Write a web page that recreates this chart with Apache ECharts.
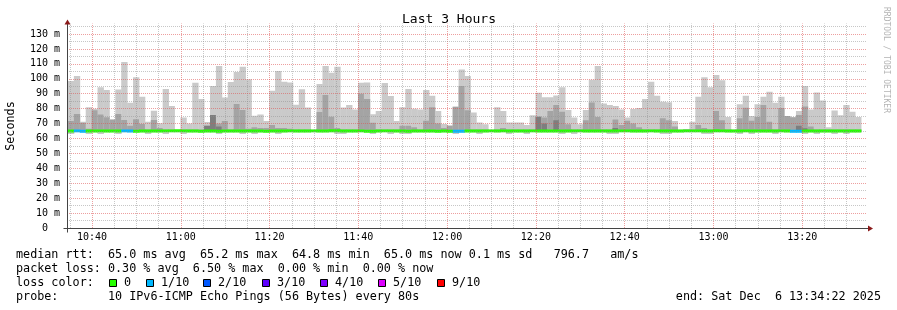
<!DOCTYPE html>
<html><head><meta charset="utf-8">
<script src="https://cdn.jsdelivr.net/npm/echarts@6/dist/echarts.min.js"></script>
<style>html,body{margin:0;padding:0;background:#fff}#c{width:897px;height:310px}</style>
</head><body><div id="c"></div><script>
// ---------------- data ----------------
const timeLabels = ['10:40','11:00','11:20','11:40','12:00','12:20','12:40','13:00','13:20'];
const windowStart = '10:34:22';          // 3 hour window
const windowHours = 3;
const firstStep = '10:34:35';            // start of first 80 s probe step
const stepSeconds = 80;

// light smoke: min .. max rtt (ms)
const maxRtt = [98.5,101.8,71.2,81.0,80.0,94.3,92.5,72.9,92.9,111.2,
84.0,101.1,88.0,71.2,78.6,70.2,93.1,81.8,65.8,74.1,
70.0,97.4,86.5,71.0,95.1,108.6,87.4,97.8,104.5,108.0,
99.7,75.2,76.0,71.8,92.0,105.2,98.1,97.5,82.6,93.0,
80.8,66.0,96.5,108.6,104.1,108.0,80.8,82.4,79.5,97.4,
97.6,76.2,78.4,97.2,88.4,71.7,81.0,93.1,79.9,79.5,
92.5,88.7,78.4,69.7,68.7,81.3,106.3,101.8,77.4,70.7,
69.6,66.0,81.0,78.4,70.7,70.7,70.7,69.1,75.6,90.6,
87.7,87.7,88.8,94.4,79.1,74.0,69.5,79.1,99.4,108.6,
83.5,82.4,81.7,79.5,74.0,79.7,80.4,86.5,98.1,88.7,
84.6,84.3,71.7,66.0,66.3,71.2,88.0,101.1,94.4,102.5,
99.1,74.4,66.0,82.9,88.7,75.0,82.9,88.0,91.3,83.9,
88.0,75.0,74.2,78.4,95.1,79.5,90.8,85.4,67.5,78.8,
75.5,82.4,77.9,74.4,null];
const minRtt = [63.0,64.2,64.2,63.0,64.2,63.0,64.2,64.2,63.0,64.2,
64.2,64.2,64.2,63.0,64.2,64.2,63.0,64.2,64.2,63.0,
64.2,64.2,64.2,64.2,64.2,63.0,64.2,64.2,64.2,63.0,
64.2,63.0,64.2,64.2,64.2,63.0,64.2,64.2,64.2,64.2,
64.2,64.2,64.2,64.2,64.2,63.0,63.0,64.2,64.2,64.2,
64.2,63.0,64.2,64.2,63.0,64.2,63.0,63.0,64.2,64.2,
64.2,64.2,64.2,64.2,64.2,63.0,64.2,64.2,64.2,63.0,
64.2,64.2,64.2,64.2,63.0,64.2,64.2,63.0,64.2,64.2,
64.2,64.2,64.2,63.0,64.2,63.0,64.2,64.2,64.2,64.2,
64.2,63.0,63.0,64.2,64.2,64.2,64.2,64.2,64.2,64.2,
63.0,63.0,64.2,64.2,64.2,64.2,64.2,63.0,63.0,64.2,
64.2,64.2,64.2,63.0,64.2,63.0,64.2,64.2,64.2,63.0,
64.2,64.2,64.2,64.2,63.0,64.2,63.0,64.2,64.2,63.0,
64.2,63.0,64.2,64.2,null];
// medium smoke: upper inner percentile (ms)
const p9Rtt = [71.7,76.4,70.5,66.5,79.0,76.0,74.2,72.5,76.4,72.4,
68.6,72.9,69.7,66.0,72.4,67.0,66.0,66.0,65.5,66.0,
66.0,66.0,66.0,68.5,75.7,70.0,71.7,66.0,83.1,79.1,
66.5,67.5,67.0,67.0,69.0,67.0,67.0,66.5,66.0,66.0,
66.0,65.5,77.8,89.1,74.5,67.0,66.0,66.0,66.0,90.0,
86.5,70.5,66.0,66.0,66.0,66.0,68.5,68.5,67.5,66.0,
71.9,81.0,70.0,67.0,68.5,81.3,95.2,79.0,66.0,66.0,
66.0,65.5,66.0,67.0,66.0,66.0,66.0,66.0,66.0,74.6,
74.0,78.4,82.4,77.9,69.6,66.0,66.0,72.3,84.1,74.4,
66.0,66.0,72.7,69.0,71.9,70.0,67.5,66.0,66.0,66.0,
73.5,72.3,68.0,65.5,66.0,66.0,69.1,67.0,66.0,78.4,
72.3,66.0,65.5,73.5,80.6,71.9,74.4,82.4,71.2,66.0,
80.5,75.0,74.2,75.7,81.5,68.0,66.0,66.0,66.0,66.0,
66.0,66.0,66.0,66.0,null];
// dark smoke: next inner percentile (ms), only where it shows
const p8Rtt = [null,null,null,null,null,null,null,null,null,null,
null,null,null,null,null,null,null,null,null,null,
null,null,null,68.5,75.7,68.0,null,null,null,null,
null,null,null,null,null,null,null,null,null,null,
null,null,null,null,null,null,null,null,null,null,
null,null,null,null,null,null,null,null,null,null,
null,null,null,null,null,null,null,null,null,null,
null,null,null,null,null,null,null,null,null,74.6,
70.0,null,72.3,null,null,null,null,null,null,null,
null,null,67.0,null,null,null,null,null,null,null,
null,null,null,null,null,null,null,null,null,null,
null,null,null,null,null,null,null,null,null,null,
null,null,null,68.5,66.8,null,null,null,null,null,
null,null,null,null,null];
// median rtt (ms) and lost pings out of 10
const medianRtt = [65.0,65.1,64.9,65.0,65.0,65.1,65.0,65.0,65.0,65.1,
65.0,64.9,65.0,65.0,65.0,65.0,65.1,65.1,65.2,65.1,
65.0,65.0,64.9,65.0,65.0,64.9,65.0,65.0,65.0,65.0,
65.0,65.0,65.0,64.9,65.0,65.0,65.0,65.1,65.0,65.0,
65.0,65.1,65.0,65.0,65.2,65.2,65.0,65.0,65.0,65.1,
64.9,64.9,65.0,65.1,65.1,65.0,65.0,64.9,65.0,65.0,
65.0,65.0,64.9,65.0,64.9,64.8,64.9,65.0,65.0,65.0,
65.0,65.1,65.0,65.1,65.0,65.0,65.0,65.0,65.1,65.0,
65.0,65.0,65.0,65.0,65.0,65.1,65.1,65.0,65.0,65.0,
65.0,65.0,65.0,65.1,65.1,65.0,65.0,65.0,65.1,65.0,
65.0,65.0,65.0,65.0,65.1,65.1,65.1,65.0,65.0,65.2,
65.1,65.0,65.0,65.0,65.1,65.0,65.0,65.0,65.0,65.0,
65.1,65.0,64.9,64.9,65.0,65.0,65.0,65.0,65.0,65.0,
65.0,65.0,65.0,65.0,null];
const lossCount = [0,1,1,0,0,0,0,0,0,1,
1,0,0,0,0,0,0,0,0,0,
0,0,0,0,0,0,0,0,0,0,
0,0,0,0,0,0,0,0,0,0,
0,0,0,0,0,0,0,0,0,0,
0,0,0,0,0,0,0,0,0,0,
0,0,0,0,0,1,1,0,0,0,
0,0,0,0,0,0,0,0,0,0,
0,0,0,0,0,0,0,0,0,0,
0,0,0,0,0,0,0,0,0,0,
0,0,0,0,0,0,0,0,0,0,
0,0,0,0,0,0,0,0,0,0,
0,0,1,1,0,0,0,0,0,0,
0,0,0,0,null];

const lossLegendLabels = ['0','1/10','2/10','3/10','4/10','5/10','9/10'];
const lossLegendColors = ['#26ff00','#00b8ff','#0059ff','#5e00ff','#7e00ff','#dd00ff','#ff0000'];
const yMaxMs = 137;
const yLabelStep = 10;
const titleText = 'Last 3 Hours';
const statLines = [
  'median rtt:  65.0 ms avg  65.2 ms max  64.8 ms min  65.0 ms now 0.1 ms sd   796.7   am/s',
  'packet loss: 0.30 % avg  6.50 % max  0.00 % min  0.00 % now',
  'loss color:',
  'probe:       10 IPv6-ICMP Echo Pings (56 Bytes) every 80s'
];
const endText = 'end: Sat Dec  6 13:34:22 2025';

// ---------------- helpers ----------------
const MONO = '"DejaVu Sans Mono", monospace';
const toMin = s => { const p = s.split(':').map(Number); return p[0]*60 + p[1] + (p[2]||0)/60; };
const X_MIN = toMin(windowStart), X_MAX = X_MIN + windowHours*60;
const STEP = stepSeconds/60;
const T0 = toMin(firstStep);
const fmtTime = v => { const h = Math.floor(v/60), m = Math.round(v - h*60); return String(h).padStart(2,'0')+':'+String(m).padStart(2,'0'); };
const SMOKE = ['#cacaca','#a4a4a4','#7e7e7e'];
const lossColor = n => n <= 5 ? lossLegendColors[n] : '#ff0000';

const smokeData = maxRtt.map((mx,i) => [T0 + i*STEP, minRtt[i], mx, p9Rtt[i], p8Rtt[i], medianRtt[i]]);
const medData = medianRtt.map((m,i) => [T0 + i*STEP, m, lossCount[i]]);

function rectBetween(api, t0, t1, lo, hi, fill) {
  const p = api.coord([t0, hi]), q = api.coord([t1, lo]);
  return {type:'rect', shape:{x:p[0], y:p[1], width:q[0]-p[0]+0.4, height:q[1]-p[1]}, style:{fill}};
}
function renderSmoke(params, api) {
  const t0 = api.value(0), t1 = t0 + STEP;
  const lo = api.value(1), hi = api.value(2), m9 = api.value(3), m8 = api.value(4), med = api.value(5);
  const kids = [];
  const add = (a,b,c) => { if (isFinite(a) && isFinite(b) && b > a) kids.push(rectBetween(api,t0,t1,a,b,c)); };
  add(lo, hi, SMOKE[0]);
  add(med, m9, SMOKE[1]);
  add(med, m8, SMOKE[2]);
  return {type:'group', children:kids};
}
const HALF = 1.0; // half thickness of the median band in ms
function renderMedian(params, api) {
  const t0 = api.value(0), m = api.value(1), loss = api.value(2);
  if (!isFinite(m)) return;
  return rectBetween(api, t0, t0 + STEP, m - HALF, m + HALF, lossColor(loss));
}

// grid lines (5 min / 5 ms minor, 20 min / 10 ms major)
const gridLines = [];
const MAJ = {color:'rgba(222,80,80,0.55)', type:[1,1], width:1};
const MIN = {color:'rgba(143,143,143,0.5)', type:[1,1], width:1};
for (let v = Math.ceil(X_MIN/5)*5; v < X_MAX; v += 5) gridLines.push({xAxis:v, lineStyle: v%20===0 ? MAJ : MIN});
for (let v = 5; v < yMaxMs; v += 5) gridLines.push({yAxis:v, lineStyle: v%10===0 ? MAJ : MIN});

const chart = echarts.init(document.getElementById('c'), null, {renderer:'canvas'});
chart.setOption({
  animation:false,
  backgroundColor:'#ffffff',
  grid:{left:67, right:31, top:23.6, bottom:82, containLabel:false, outerBoundsMode:'none'},
  xAxis:{type:'value', min:X_MIN, max:X_MAX,
    axisLine:{show:false}, axisTick:{show:false}, splitLine:{show:false},
    axisLabel:{customValues: timeLabels.map(toMin), formatter: fmtTime, fontFamily:MONO, fontSize:10, color:'#000', margin:4.5}},
  yAxis:{type:'value', min:0, max:yMaxMs, interval:yLabelStep,
    axisLine:{show:false}, axisTick:{show:false}, splitLine:{show:false},
    axisLabel:{showMaxLabel:false, fontFamily:MONO, fontSize:10, color:'#000', margin:7,
      formatter: v => (v % yLabelStep !== 0 || v > yMaxMs - 5) ? '' : (v === 0 ? '0  ' : v + ' m')}},
  series:[
    {type:'custom', name:'smoke', renderItem:renderSmoke, data:smokeData, z:2, clip:true, silent:true,
     encode:{x:0, y:[1,2]}},
    {type:'line', name:'grid', data:[], z:3, silent:true,
     markLine:{silent:true, symbol:['none','none'], label:{show:false}, animation:false, data:gridLines}},
    {type:'custom', name:'median', renderItem:renderMedian, data:medData, z:4, clip:true, silent:true,
     encode:{x:0, y:1}}
  ]
});

// axes, arrows and texts
const o = chart.convertToPixel({gridIndex:0}, [X_MIN, 0]);
const e = chart.convertToPixel({gridIndex:0}, [X_MAX, yMaxMs]);
const x0 = Math.round(o[0]) + 0.5, y0 = Math.round(o[1]) + 0.5, x1 = e[0], yT = e[1];
const AX = '#444', ARROW = '#8b1a1a';
const g = [
  {type:'line', shape:{x1:x0-4, y1:y0, x2:x1+3, y2:y0}, style:{stroke:AX, lineWidth:1}, z:10},
  {type:'line', shape:{x1:x0, y1:y0+4, x2:x0, y2:yT-1}, style:{stroke:AX, lineWidth:1}, z:10},
  {type:'polygon', shape:{points:[[x1+2,y0-3],[x1+7,y0],[x1+2,y0+3]]}, style:{fill:ARROW}, z:11},
  {type:'polygon', shape:{points:[[x0-3,yT+1],[x0,yT-4],[x0+3,yT+1]]}, style:{fill:ARROW}, z:11},
  {type:'text', x:449, y:20, style:{text:titleText, font:'13px '+MONO, fill:'#000', align:'center', verticalAlign:'middle'}},
  {type:'text', x:11, y:(y0+yT)/2, rotation:Math.PI/2, style:{text:'Seconds', font:'11.75px '+MONO, fill:'#000', align:'center', verticalAlign:'middle'}},
  {type:'text', x:886.5, y:60, rotation:-Math.PI/2, style:{text:'RRDTOOL / TOBI OETIKER', font:'8px '+MONO, fill:'#b4b4b4', align:'center', verticalAlign:'middle'}}
];
const lineY = [254.5, 268.5, 282.5, 297];
statLines.forEach((s,i) => g.push({type:'text', x:16, y:lineY[i], style:{text:s, font:'11.75px '+MONO, fill:'#000', align:'left', verticalAlign:'middle'}}));
const boxX = [109, 146, 203, 262, 320, 378, 437];
lossLegendLabels.forEach((lab,i) => {
  g.push({type:'rect', shape:{x:boxX[i]+0.5, y:279.5, width:7, height:7}, style:{fill:lossLegendColors[i], stroke:'#000', lineWidth:1}});
  g.push({type:'text', x:boxX[i]+15, y:lineY[2], style:{text:lab, font:'11.75px '+MONO, fill:'#000', align:'left', verticalAlign:'middle'}});
});
g.push({type:'text', x:881, y:lineY[3], style:{text:endText, font:'11.75px '+MONO, fill:'#000', align:'right', verticalAlign:'middle'}});
chart.setOption({graphic:{elements:g}});
</script></body></html>
